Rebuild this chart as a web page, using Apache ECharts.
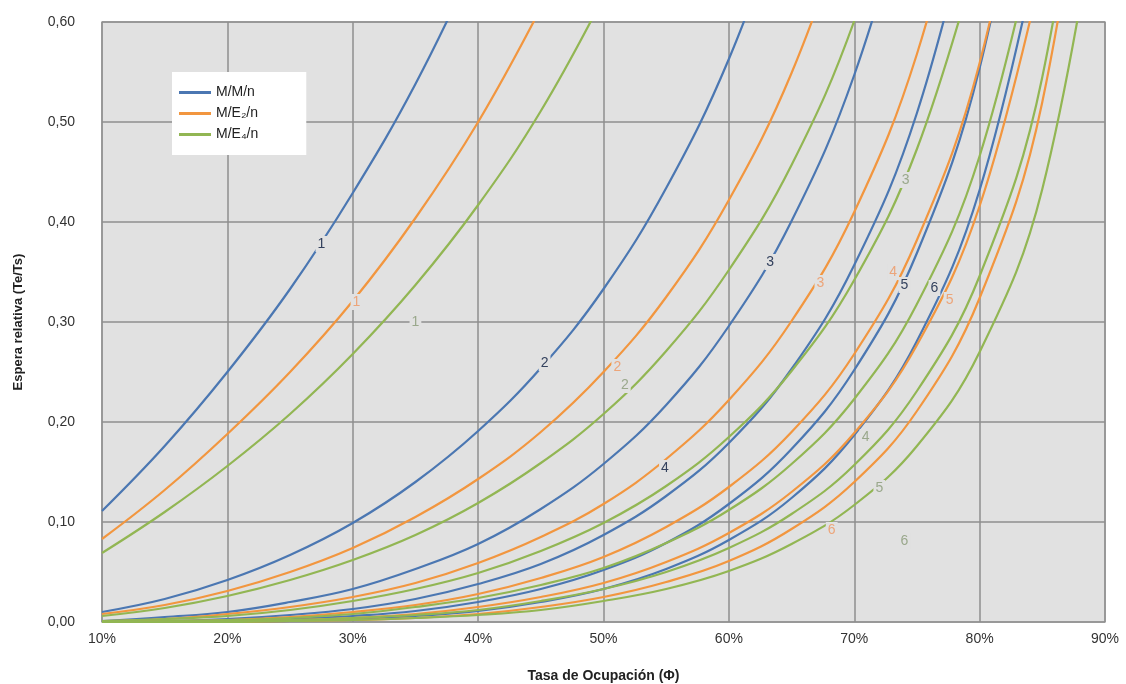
<!DOCTYPE html>
<html>
<head>
<meta charset="utf-8">
<script src="https://cdn.jsdelivr.net/npm/echarts@6/dist/echarts.min.js"></script>
<style>
  html, body { margin: 0; padding: 0; background: #ffffff; }
  #chart { width: 1126px; height: 684px; }
</style>
</head>
<body>
<div id="chart"></div>
<script>
// ---- Data ----
const occupancy = [10, 15, 20, 25, 30, 35, 40, 45, 50, 55, 60, 65, 70, 75, 80, 85, 90];
const xTicks = ['10%', '20%', '30%', '40%', '50%', '60%', '70%', '80%', '90%'];
const yTicks = ['0,00', '0,10', '0,20', '0,30', '0,40', '0,50', '0,60'];
const families = ['M/M/n', 'M/E₂/n', 'M/E₄/n'];

// M/M/n
const mm1 = [0.111, 0.176, 0.250, 0.333, 0.429, 0.538, 0.667];
const mm2 = [0.010, 0.023, 0.042, 0.067, 0.099, 0.140, 0.191, 0.254, 0.333, 0.434, 0.563, 0.732];
const mm3 = [0.001, 0.005, 0.010, 0.020, 0.033, 0.053, 0.078, 0.113, 0.158, 0.217, 0.296, 0.401, 0.547, 0.757];
const mm4 = [0.000, 0.001, 0.003, 0.007, 0.013, 0.023, 0.038, 0.058, 0.087, 0.126, 0.179, 0.253, 0.357, 0.509, 0.746];
const mm5 = [0.000, 0.000, 0.001, 0.003, 0.006, 0.011, 0.020, 0.033, 0.052, 0.079, 0.118, 0.173, 0.252, 0.369, 0.554, 0.873];
const mm6 = [0.000, 0.000, 0.000, 0.001, 0.003, 0.006, 0.011, 0.020, 0.033, 0.053, 0.082, 0.124, 0.187, 0.281, 0.432, 0.693];
// M/E2/n
const me2_1 = [0.083, 0.132, 0.188, 0.250, 0.321, 0.404, 0.500, 0.614];
const me2_2 = [0.008, 0.017, 0.031, 0.050, 0.074, 0.105, 0.143, 0.190, 0.250, 0.325, 0.422, 0.549, 0.721];
const me2_3 = [0.001, 0.003, 0.008, 0.015, 0.025, 0.039, 0.059, 0.085, 0.118, 0.163, 0.222, 0.301, 0.410, 0.568, 0.809];
const me2_4 = [0.000, 0.001, 0.002, 0.005, 0.010, 0.017, 0.028, 0.044, 0.065, 0.095, 0.135, 0.190, 0.268, 0.382, 0.559, 0.862];
const me2_5 = [0.000, 0.000, 0.001, 0.002, 0.004, 0.008, 0.015, 0.025, 0.039, 0.060, 0.089, 0.130, 0.189, 0.277, 0.416, 0.655];
const me2_6 = [0.000, 0.000, 0.000, 0.001, 0.002, 0.004, 0.008, 0.015, 0.025, 0.040, 0.061, 0.093, 0.140, 0.211, 0.324, 0.520, 0.925];
// M/E4/n
const me4_1 = [0.069, 0.110, 0.156, 0.208, 0.268, 0.337, 0.417, 0.511, 0.625];
const me4_2 = [0.006, 0.014, 0.026, 0.042, 0.062, 0.087, 0.119, 0.159, 0.208, 0.271, 0.352, 0.457, 0.601, 0.804];
const me4_3 = [0.001, 0.003, 0.006, 0.012, 0.021, 0.033, 0.049, 0.071, 0.099, 0.136, 0.185, 0.251, 0.342, 0.473, 0.674];
const me4_4 = [0.000, 0.001, 0.002, 0.004, 0.008, 0.015, 0.024, 0.037, 0.054, 0.079, 0.112, 0.158, 0.223, 0.318, 0.466, 0.718];
const me4_5 = [0.000, 0.000, 0.001, 0.002, 0.004, 0.007, 0.012, 0.021, 0.033, 0.050, 0.074, 0.108, 0.157, 0.231, 0.346, 0.545, 0.953];
const me4_6 = [0.000, 0.000, 0.000, 0.001, 0.002, 0.004, 0.007, 0.012, 0.021, 0.033, 0.051, 0.078, 0.117, 0.176, 0.270, 0.433, 0.771];

// curve number labels as placed in the reference: [occupancy, value]
const mmLabels  = [[27.5, 0.378], [45.3, 0.259], [63.3, 0.360], [54.9, 0.154], [74.0, 0.337], [76.4, 0.334]];
const me2Labels = [[30.3, 0.320], [51.1, 0.255], [67.3, 0.339], [73.1, 0.350], [77.6, 0.322], [68.2, 0.092]];
const me4Labels = [[35.0, 0.300], [51.7, 0.237], [74.1, 0.442], [70.9, 0.185], [72.0, 0.134], [74.0, 0.081]];

const curveSets = [
  [mm1, mm2, mm3, mm4, mm5, mm6],
  [me2_1, me2_2, me2_3, me2_4, me2_5, me2_6],
  [me4_1, me4_2, me4_3, me4_4, me4_5, me4_6]
];
const labelSets = [mmLabels, me2Labels, me4Labels];
const colors = ['#4b77b2', '#f2963f', '#92b653'];
const labelColors = ['#34425e', '#eca57a', '#9aa88c'];
const plotBg = '#e1e1e1';

const series = [];
curveSets.forEach((set, f) => {
  set.forEach((vals, k) => {
    const lab = labelSets[f][k];
    series.push({
      name: families[f],
      type: 'line',
      symbol: 'none',
      smooth: 0.4,
      clip: true,
      z: 2 + f,
      lineStyle: { color: colors[f], width: 2.2 },
      itemStyle: { color: colors[f] },
      data: vals.map((v, i) => [occupancy[i], v]),
      markPoint: {
        symbol: 'circle',
        symbolSize: 0,
        silent: true,
        data: [{ coord: lab, value: String(k + 1) }],
        label: {
          show: true,
          position: 'inside',
          formatter: String(k + 1),
          color: labelColors[f],
          fontSize: 14,
          fontFamily: 'Liberation Sans',
          backgroundColor: plotBg,
          padding: [1, 2]
        }
      }
    });
  });
});

const chart = echarts.init(document.getElementById('chart'), null, { renderer: 'canvas' });
chart.setOption({
  animation: false,
  backgroundColor: '#ffffff',
  textStyle: { fontFamily: 'Liberation Sans' },
  grid: {
    left: 102, right: 21, top: 22, bottom: 62,
    outerBoundsMode: 'none',
    containLabel: false,
    show: true, backgroundColor: plotBg, borderColor: '#a8a8a8', borderWidth: 1.5
  },
  legend: {
    data: families,
    orient: 'vertical',
    left: 172, top: 72,
    backgroundColor: '#ffffff',
    padding: [13, 48, 13, 7],
    icon: 'rect',
    itemGap: 6,
    itemWidth: 32,
    itemHeight: 3,
    textStyle: { fontSize: 14, color: '#222', fontFamily: 'Liberation Sans', lineHeight: 15 }
  },
  xAxis: {
    type: 'value',
    min: 10, max: 90, interval: 10,
    name: 'Tasa de Ocupación (Φ)',
    nameLocation: 'middle',
    nameGap: 47,
    nameTextStyle: { fontSize: 14, fontWeight: 'bold', color: '#222' },
    axisLine: { show: false },
    axisTick: { show: false },
    axisLabel: {
      fontSize: 14, color: '#333', margin: 10,
      formatter: v => xTicks[Math.round((v - 10) / 10)]
    },
    splitLine: { show: true, lineStyle: { color: '#8e8e8e', width: 1.5 } }
  },
  yAxis: {
    type: 'value',
    min: 0, max: 0.6, interval: 0.1,
    name: 'Espera relativa (Te/Ts)',
    nameLocation: 'middle',
    nameGap: 77,
    nameTextStyle: { fontSize: 13, fontWeight: 'bold', color: '#222' },
    axisLine: { show: false },
    axisTick: { show: false },
    axisLabel: {
      fontSize: 14, color: '#333', margin: 27,
      formatter: v => yTicks[Math.round(v * 10)]
    },
    splitLine: { show: true, lineStyle: { color: '#8e8e8e', width: 1.5 } }
  },
  series: series
});
</script>
</body>
</html>
